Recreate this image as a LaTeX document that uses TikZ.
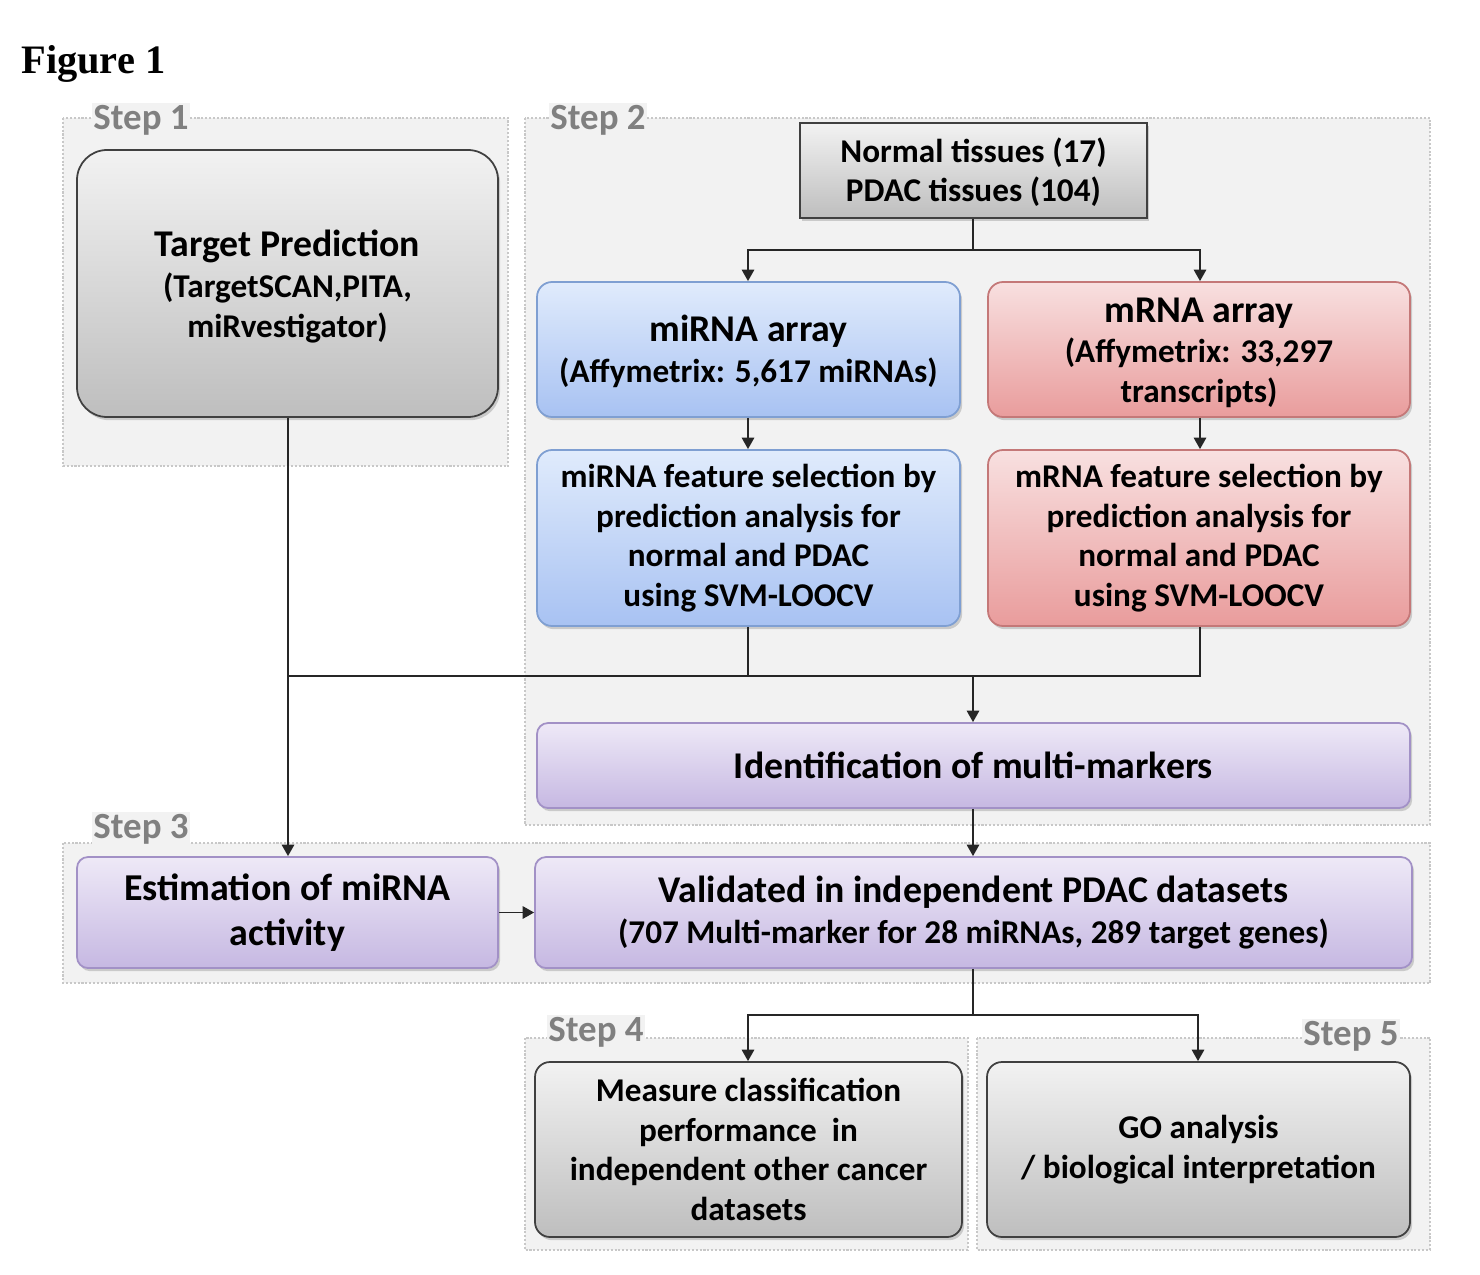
\documentclass[tikz,border=0pt]{standalone}
\usepackage{fontspec}
\setmainfont{Carlito}
\newfontfamily\titlefont{Liberation Serif}
\usetikzlibrary{shadows,arrows.meta,fit}
\definecolor{panelfill}{HTML}{F2F2F2}
\definecolor{paneldraw}{HTML}{C8C8C8}
\definecolor{steptext}{HTML}{808080}
\definecolor{linecol}{HTML}{262626}
\definecolor{grayT}{HTML}{F2F2F2}
\definecolor{grayB}{HTML}{BEBEBE}
\definecolor{grayD}{HTML}{404040}
\definecolor{blueT}{HTML}{E0EBFC}
\definecolor{blueB}{HTML}{A8C2F2}
\definecolor{blueD}{HTML}{7F9FD2}
\definecolor{redT}{HTML}{F8E0E0}
\definecolor{redB}{HTML}{E99C9C}
\definecolor{redD}{HTML}{C47878}
\definecolor{purT}{HTML}{EEE9F7}
\definecolor{purB}{HTML}{C6B8E2}
\definecolor{purD}{HTML}{A291C6}
\newcommand\hdr{\fontsize{21.5}{24}\selectfont}
\begin{document}
\begin{tikzpicture}[x=0.02cm,y=-0.02cm,
  panel/.style={fill=panelfill,draw=paneldraw,densely dotted,line width=1.2pt},
  steplab/.style={text=steptext,font=\fontsize{21}{22}\selectfont\bfseries,fill=panelfill,inner sep=1pt},
  txt/.style={font=\fontsize{18.9}{22.6}\selectfont\bfseries,align=center},
  basebox/.style={inner sep=0pt,line width=1pt,
    drop shadow={opacity=0.35,shadow xshift=1.2pt,shadow yshift=-1.8pt}},
  graybox/.style={basebox,draw=grayD,top color=grayT,bottom color=grayB},
  bluebox/.style={basebox,draw=blueD,top color=blueT,bottom color=blueB,rounded corners=0.3cm},
  redbox/.style={basebox,draw=redD,top color=redT,bottom color=redB,rounded corners=0.3cm},
  purbox/.style={basebox,draw=purD,top color=purT,bottom color=purB,rounded corners=0.22cm},
  conn/.style={draw=linecol,line width=1.1pt},
  arr/.style={conn,-{Triangle[length=6.5pt,width=7pt]}}]
\useasboundingbox[fill=white] (0,0) rectangle (1480,1274);
% title
\node[anchor=west,font=\titlefont\fontsize{23}{25}\selectfont\bfseries,inner sep=0pt] (title) at (21,64) {Figure 1};
% panels
\draw[panel] (63,118) rectangle (508,466);
\draw[panel] (525,118) rectangle (1430,825);
\draw[panel] (63,843) rectangle (1430,983);
\draw[panel] (525,1038) rectangle (968,1250);
\draw[panel] (977,1038) rectangle (1430,1250);
\node[steplab] (s1) at (141,120) {Step 1};
\node[steplab] (s2) at (598,120) {Step 2};
\node[steplab] (s3) at (141,829) {Step 3};
\node[steplab] (s4) at (596,1032) {Step 4};
\node[steplab] (s5) at (1351,1036) {Step 5};
% boxes
\node[graybox,rounded corners=0.6cm,fit={(77,150)(498,417)}] (tp) {};
\node[txt] (tpt) at (tp.center) [yshift=-1.5pt] {{\hdr Target Prediction}\\[1pt](TargetSCAN,PITA,\\miRvestigator)};
\node[graybox,fit={(800,123)(1147,218)}] (nt) {};
\node[txt] (ntt) at (nt.center) [yshift=-1pt] {Normal tissues (17)\\PDAC tissues (104)};
\node[bluebox,fit={(537,282)(960,417)}] (mi) {};
\node[txt] (mit) at (mi.center) [yshift=-1pt] {{\hdr miRNA array}\\[1pt](Affymetrix: 5,617 miRNAs)};
\node[redbox,fit={(988,282)(1410,417)}] (mr) {};
\node[txt] (mrt) at (mr.center) [yshift=-2pt] {{\hdr mRNA array}\\(Affymetrix: 33,297\\transcripts)};
\node[bluebox,fit={(537,450)(960,626)}] (mifs) {};
\node[txt] (mifst) at (mifs.center) {miRNA feature selection by\\prediction analysis for\\normal and PDAC\\using SVM-LOOCV};
\node[redbox,fit={(988,450)(1410,626)}] (mrfs) {};
\node[txt] (mrfst) at (mrfs.center) {mRNA feature selection by\\prediction analysis for\\normal and PDAC\\using SVM-LOOCV};
\node[purbox,fit={(537,723)(1410,808)}] (id) {};
\node[txt,font=\fontsize{21.5}{24}\selectfont\bfseries] (idt) at (id.center) {Identification of multi-markers};
\node[purbox,fit={(77,857)(498,968)}] (est) {};
\node[txt,font=\fontsize{21.6}{26}\selectfont\bfseries] (estt) at (est.center) {Estimation of miRNA\\activity};
\node[purbox,fit={(535,857)(1412,968)}] (val) {};
\node[txt] (valt) at (val.center) {{\hdr Validated in independent PDAC datasets}\\[1pt](707 Multi-marker for 28 miRNAs, 289 target genes)};
\node[graybox,rounded corners=0.3cm,fit={(535,1062)(962,1237)}] (meas) {};
\node[txt] (meast) at (meas.center) {Measure classification\\performance\ \ in\\independent other cancer\\datasets};
\node[graybox,rounded corners=0.3cm,fit={(987,1062)(1410,1237)}] (go) {};
\node[txt] (got) at (go.center) {GO analysis\\/ biological interpretation};
% junction coordinates
\coordinate (j1) at (973,250);
\coordinate (jL) at (288,676);
\coordinate (jR) at (1200,676);
\coordinate (jM) at (973,676);
\coordinate (jMi) at (748,676);
\coordinate (j2) at (973,1015);
% connectors
\draw[conn] (nt.south -| j1) -- (j1);
\draw[arr] (j1) -| (mi.north -| jMi);
\draw[arr] (j1) -| (mr.north -| jR);
\draw[arr] (mi.south -| jMi) -- (mifs.north -| jMi);
\draw[arr] (mr.south -| jR) -- (mrfs.north -| jR);
\draw[conn] (mifs.south -| jMi) -- (jMi);
\draw[conn] (mrfs.south -| jR) -- (jR) -- (jL);
\draw[arr] (jM) -- (id.north -| jM);
\draw[arr] (tp.south -| jL) -- (est.north -| jL);
\draw[arr] (id.south -| jM) -- (val.north -| jM);
\draw[arr] (est.east) -- (val.west);
\draw[conn] (val.south -| j2) -- (j2);
\draw[arr] (j2) -| (meas.north -| jMi);
\draw[arr] (j2) -| ([xshift=-0.04cm]go.north -| jR);
\end{tikzpicture}
\end{document}
